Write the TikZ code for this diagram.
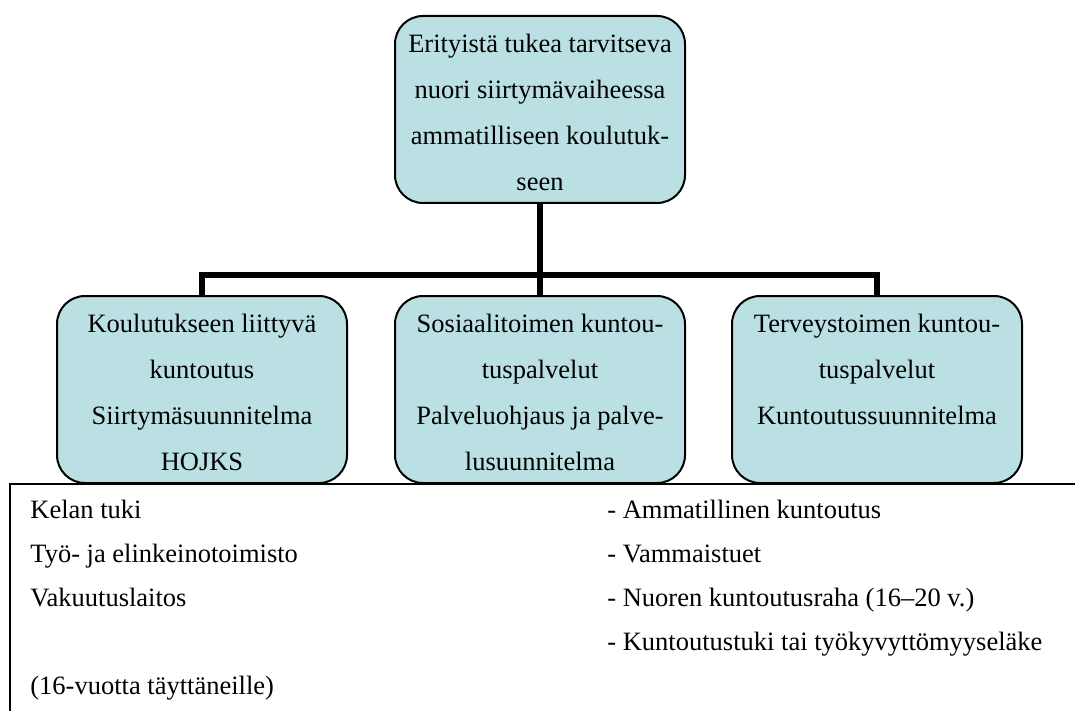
\documentclass[tikz,border=0pt]{standalone}
\usepackage{fontspec}
\setmainfont{Liberation Serif}
\usetikzlibrary{positioning,calc}
\definecolor{stageblue}{RGB}{186,224,227}
\newcommand{\stagelines}[1]{\parbox[t][75pt][t]{142pt}{\centering #1}}

\begin{document}
\begin{tikzpicture}[
  node distance=140pt,
  font=\fontsize{13.25}{23}\selectfont,
  listitem/.style={anchor=base west, inner sep=0pt, font=\fontsize{13.25}{22}\selectfont}
]
	\useasboundingbox (0,0) rectangle (537.5pt,-355.5pt);
	\clip (0,0) rectangle (537.5pt,-355.5pt);

	\tikzstyle{stage} = [rectangle, rounded corners=14pt, minimum width=145pt, minimum height=93.5pt, inner xsep=1.5pt, inner ysep=9.25pt, fill=stageblue, draw=black, line width=1pt]
	\tikzstyle{branch} = [draw=black, line width=2.75pt]
	\tikzstyle{frame} = [rectangle, draw=black, line width=0.75pt, anchor=north west, minimum width=560pt, minimum height=140pt]

	\node (sources) [frame] at (4.5pt,-241.5pt) {};

	\node (youth) [stage] at (270pt,-54.75pt) {\stagelines{Erityistä tukea tarvitseva\\ nuori siirtymävaiheessa\\ ammatilliseen koulutuk-\\ seen}};
	\node (social) [stage, below of=youth] {\stagelines{Sosiaalitoimen kuntou-\\ tuspalvelut\\ Palveluohjaus ja palve-\\ lusuunnitelma}};
	\node (education) [stage, left of=social, node distance=169pt] {\stagelines{Koulutukseen liittyvä\\ kuntoutus\\ Siirtymäsuunnitelma\\ HOJKS}};
	\node (health) [stage, right of=social, node distance=168.5pt] {\stagelines{Terveystoimen kuntou-\\ tuspalvelut\\ Kuntoutussuunnitelma}};

	\coordinate (junction) at ([yshift=-82.75pt]youth.center);
	\draw[branch] (youth.south) -- (social.north);
	\draw[branch] (education.north) |- (junction) -| (health.north);

	\foreach \agency/\row in {Kelan tuki/0, Työ- ja elinkeinotoimisto/1, Vakuutuslaitos/2, {(16-vuotta täyttäneille)}/4}
		\node[listitem] (agency\row) at (15pt,{-259pt-22pt*\row}) {\agency};
	\foreach \benefit/\row in {{- Ammatillinen kuntoutus}/0, {- Vammaistuet}/1, {- Nuoren kuntoutusraha (16–20 v.)}/2, {- Kuntoutustuki tai työkyvyttömyyseläke}/3}
		\node[listitem] (benefit\row) at (303.5pt,{-259pt-22pt*\row}) {\benefit};
\end{tikzpicture}
\end{document}
